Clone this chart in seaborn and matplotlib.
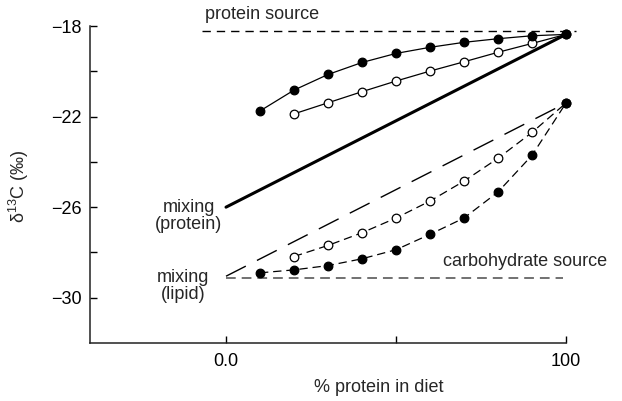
import seaborn as sns
import matplotlib.pyplot as plt
import pandas as pd

# values
pct_upper = [10, 20, 30, 40, 50, 60, 70, 80, 90, 100]
filled_upper = [-21.75, -20.83, -20.14, -19.61, -19.21, -18.94, -18.72, -18.56, -18.43, -18.37]
pct_upper_open = [20, 30, 40, 50, 60, 70, 80, 90, 100]
open_upper = [-21.88, -21.39, -20.90, -20.43, -19.99, -19.58, -19.16, -18.77, -18.37]

pct_lower = [10, 20, 30, 40, 50, 60, 70, 80, 90, 100]
filled_lower = [-28.90, -28.77, -28.58, -28.28, -27.88, -27.20, -26.48, -25.33, -23.71, -21.40]
pct_lower_open = [20, 30, 40, 50, 60, 70, 80, 90, 100]
open_lower = [-28.18, -27.69, -27.13, -26.48, -25.73, -24.85, -23.84, -22.70, -21.40]

mix_protein_x = [0, 100]
mix_protein_y = [-26.0, -18.37]
mix_lipid_x = [0, 100]
mix_lipid_y = [-29.05, -21.40]
protein_src_x = [-7, 103]
protein_src_y = [-18.2, -18.2]
carb_src_x = [0, 99]
carb_src_y = [-29.15, -29.15]

xtick_vals = [0, 100]
xtick_labels = ['0.0', '100']
ytick_vals = [-30, -26, -22, -18]
ytick_labels = ['\u221230', '\u221226', '\u221222', '\u221218']

sns.set_style('ticks')
plt.rcParams['font.family'] = ['Liberation Sans', 'DejaVu Sans']
plt.rcParams['mathtext.fontset'] = 'custom'
plt.rcParams['mathtext.rm'] = 'Liberation Sans'
plt.rcParams['lines.scale_dashes'] = False

fig = plt.figure(figsize=(6.22, 4.01), dpi=100)
ax = fig.add_axes([0.1447, 0.1446, 0.7653, 0.7905])

def line(x, y, **kw):
    df = pd.DataFrame({'x': x, 'y': y})
    sns.lineplot(data=df, x='x', y='y', ax=ax, clip_on=False, **kw)

# reference lines
line(protein_src_x, protein_src_y, color='black', linewidth=1.0, linestyle=(0, (6, 4.3)))
line(carb_src_x, carb_src_y, color='#666666', linewidth=1.3, linestyle=(0, (7, 4.3)))
line(mix_protein_x, mix_protein_y, color='black', linewidth=2.2)
line(mix_lipid_x, mix_lipid_y, color='black', linewidth=1.0, linestyle=(0, (16, 9)))

# data series
mk = dict(marker='o', markersize=6.2, markeredgecolor='black', markeredgewidth=0.9)
line(pct_upper_open, open_upper, color='black', linewidth=0.9,
     markerfacecolor='white', zorder=3, **mk)
line(pct_upper, filled_upper, color='black', linewidth=0.9,
     markerfacecolor='black', zorder=4, **mk)
line(pct_lower_open, open_lower, color='black', linewidth=0.9, linestyle=(0, (6, 3.5)),
     markerfacecolor='white', zorder=3, **mk)
line(pct_lower, filled_lower, color='black', linewidth=0.9, linestyle=(0, (6, 3.5)),
     markerfacecolor='black', zorder=4, **mk)

ax.set_xlim(-40, 100)
ax.set_ylim(-32, -18)
ax.set_xticks(xtick_vals, xtick_labels)
ax.set_xticks([50], minor=True)
ax.set_yticks(ytick_vals, ytick_labels)
ax.set_yticks([-28, -24, -20], minor=True)
ax.tick_params(axis='both', which='both', direction='in', length=5, width=1,
               labelsize=13, colors='black')
ax.tick_params(axis='y', pad=6)
ax.tick_params(axis='x', pad=7)
sns.despine(ax=ax)
for s in ['left', 'bottom']:
    ax.spines[s].set_linewidth(1.1)
    ax.spines[s].set_color('#222222')

ax.set_xlabel('% protein in diet', fontsize=13)
ax.xaxis.set_label_coords(0.607, -0.115)
ax.set_ylabel('\u03b4$^{13}$C (\u2030)', fontsize=13)
ax.yaxis.set_label_coords(-0.125, 0.495)

ax.text(-6.2, -17.47, 'protein source', fontsize=13, ha='left', va='center')
ax.text(-10.9, -26.4, 'mixing\n(protein)', fontsize=13, ha='center', va='center',
        linespacing=1.0)
ax.text(-12.6, -29.5, 'mixing\n(lipid)', fontsize=13, ha='center', va='center',
        linespacing=1.0)
ax.text(63.8, -28.4, 'carbohydrate source', fontsize=13, ha='left', va='center')

plt.savefig('out.png', dpi=100)
